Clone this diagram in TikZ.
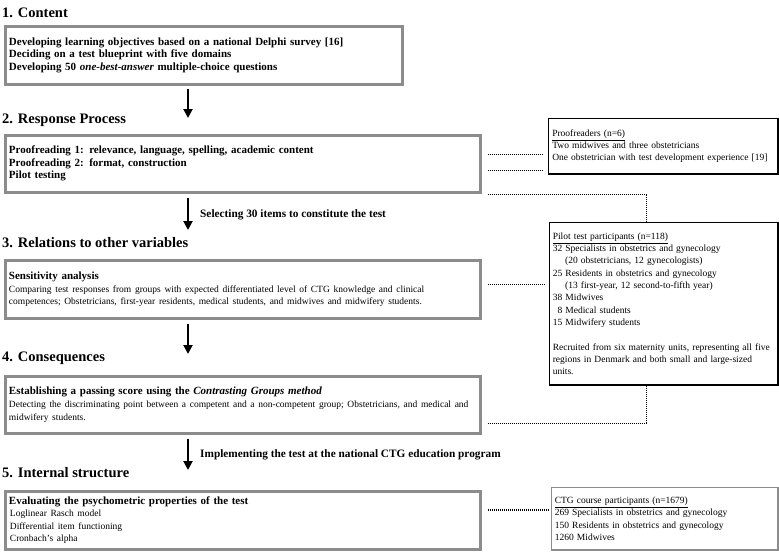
\documentclass[tikz,border=0pt]{standalone}
\usepackage{fontspec}
\setmainfont{Liberation Serif}
\usetikzlibrary{arrows.meta}
\definecolor{boxgray}{RGB}{140,140,140}
\begin{document}
\begin{tikzpicture}[x=1pt,y=-1pt,
  mainbox/.style={draw=boxgray, line width=3pt, anchor=north west, inner xsep=4pt, inner ysep=0pt, align=left, font=\fontsize{11}{12.5}\selectfont\bfseries},
  sidebox/.style={draw=black, line width=1.5pt, anchor=north west, inner xsep=3pt, inner ysep=0pt, align=left, font=\fontsize{9.5}{12.3}\selectfont},
  heading/.style={anchor=base west, inner sep=0pt, font=\fontsize{14.5}{16}\selectfont\bfseries},
  flow/.style={line width=2pt, -{Triangle[length=9pt,width=9pt]}},
  dotline/.style={line width=1.3pt, dash pattern=on 1.1pt off 0.9pt},
  lab/.style={anchor=west, inner sep=0pt, font=\fontsize{11.3}{12}\selectfont\bfseries}]
\useasboundingbox (0,0) rectangle (779,552);

% headings
\node[heading] (h1) at (2,17) {1. Content};
\node[heading] (h2) at (2,123) {2. Response Process};
\node[heading] (h3) at (2,247) {3. Relations to other variables};
\node[heading] (h4) at (2,361) {4. Consequences};
\node[heading] (h5) at (2,477) {5. Internal structure};

% main boxes
\node[mainbox, minimum width=397pt, minimum height=58pt, text width=389pt] (b1) at (3.5,24.5)
 {Developing learning objectives based on a national Delphi survey [16]\\
  Deciding on a test blueprint with five domains\\
  Developing 50 \textit{one-best-answer} multiple-choice questions};
\node[mainbox, minimum width=473pt, minimum height=57pt, text width=467pt] (b2) at (3.5,133.5)
 {Proofreading 1: relevance, language, spelling, academic content\\
  Proofreading 2: format, construction\\
  Pilot testing};
\node[mainbox, minimum width=473pt, minimum height=58pt, text width=467pt] (b3) at (3.5,258.5)
 {Sensitivity analysis\\
  {\fontsize{9.5}{13}\selectfont\mdseries Comparing test responses from groups with expected differentiated level of CTG knowledge and clinical\\
  competences; Obstetricians, first-year residents, medical students, and midwives and midwifery students.}};
\node[mainbox, minimum width=473pt, minimum height=57pt, text width=467pt] (b4) at (3.5,374.5)
 {Establishing a passing score using the \textit{Contrasting Groups method}\\
  {\fontsize{9.5}{13}\selectfont\mdseries Detecting the discriminating point between a competent and a non-competent group; Obstetricians, and medical and\\
  midwifery students.}};
\node[mainbox, minimum width=473pt, minimum height=58pt, text width=467pt] (b5) at (3.5,489.5)
 {Evaluating the psychometric properties of the test\\
  {\fontsize{9.5}{12.5}\selectfont\mdseries \hspace*{1pt}Loglinear Rasch model\\
  \hspace*{1pt}Differential item functioning\\
  \hspace*{1pt}Cronbach's alpha}};

% side boxes
\node[sidebox, minimum width=229.5pt, minimum height=55.5pt, text width=222pt] (pr) at (547.75,117.75)
 {\underline{Proofreaders (n=6)}\\
  Two midwives and three obstetricians\\
  One obstetrician with test development experience [19]};
\node[sidebox, minimum width=228.5pt, minimum height=162.5pt, text width=222pt] (pi) at (548.75,221.75)
 {\underline{Pilot test participants (n=118)}\\
  32 Specialists in obstetrics and gynecology\\
  \hspace*{1.3em}(20 obstetricians, 12 gynecologists)\\
  25 Residents in obstetrics and gynecology\\
  \hspace*{1.3em}(13 first-year, 12 second-to-fifth year)\\
  38 Midwives\\
  \hspace*{0.5em}8 Medical students\\
  15 Midwifery students\\[12.3pt]
  Recruited from six maternity units, representing all five\\
  regions in Denmark and both small and large-sized\\
  units.};
\node[sidebox, draw=boxgray, minimum width=226.5pt, minimum height=62.5pt, text width=220pt] (ct) at (550.75,486.75)
 {\underline{CTG course participants (n=1679)}\\
  269 Specialists in obstetrics and gynecology\\
  150 Residents in obstetrics and gynecology\\
  1260 Midwives};

% flow arrows
\coordinate (t1) at (188,118);
\coordinate (t2) at (188,230);
\coordinate (t3) at (188,354);
\coordinate (t4) at (188,470);
\draw[flow] ([yshift=-3pt]b1.south -| t1) -- (t1);
\draw[flow] ([yshift=-4pt]b2.south -| t2) -- (t2);
\draw[flow] ([yshift=-4pt]b3.south -| t3) -- (t3);
\draw[flow] ([yshift=-4pt]b4.south -| t4) -- (t4);
\node[lab] (l2) at (200,215) {Selecting 30 items to constitute the test};
\node[lab] (l4) at (200,455) {Implementing the test at the national CTG education program};

% dotted connectors
\draw[dotline] ([xshift=6pt,yshift=9pt]b2.east) -- ([xshift=-5pt,yshift=9pt]b2.east -| pr.west);
\draw[dotline] ([xshift=6pt,yshift=-7pt]b2.east) -- ([xshift=-5pt,yshift=-7pt]b2.east -| pr.west);
\draw[dotline] ([xshift=6pt,yshift=-1pt]b2.south east) -| ([xshift=-17pt]pi.north);
\draw[dotline] ([xshift=6pt,yshift=4.5pt]b3.east) -- ([xshift=-5pt,yshift=4.5pt]b3.east -| pi.west);
\draw[dotline] ([xshift=6pt,yshift=-19pt]b4.east) -| ([xshift=-17pt]pi.south);
\draw[dotline] ([xshift=6pt,yshift=10pt]b5.east) -- ([xshift=-3pt,yshift=10pt]b5.east -| ct.west);
\end{tikzpicture}
\end{document}
